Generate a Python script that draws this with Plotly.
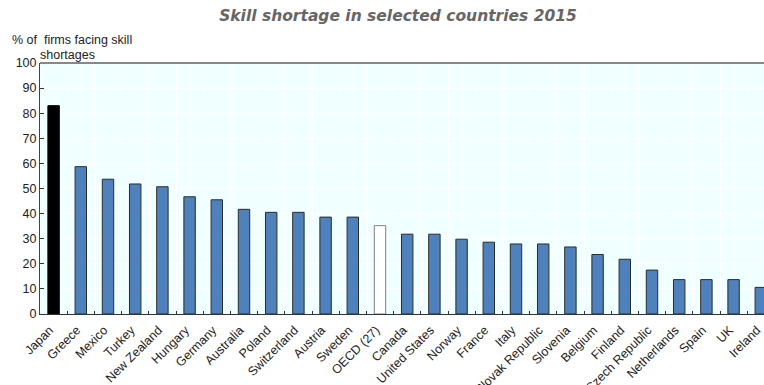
import plotly.graph_objects as go

countries = ["Japan", "Greece", "Mexico", "Turkey", "New Zealand", "Hungary", "Germany",
             "Australia", "Poland", "Switzerland", "Austria", "Sweden", "OECD (27)", "Canada",
             "United States", "Norway", "France", "Italy", "Slovak Republic", "Slovenia",
             "Belgium", "Finland", "Czech Republic", "Netherlands", "Spain", "UK", "Ireland"]
values = [83, 58.7, 53.7, 51.8, 50.7, 46.7, 45.5, 41.7, 40.5, 40.5, 38.6, 38.6, 35.2, 31.8,
          31.8, 29.8, 28.6, 27.9, 27.9, 26.7, 23.7, 21.8, 17.5, 13.7, 13.7, 13.7, 10.6]
y_ticks = [0, 10, 20, 30, 40, 50, 60, 70, 80, 90, 100]

fill = []
edge = []
for c in countries:
    if c == "Japan":
        fill.append("#000000"); edge.append("#000000")
    elif c.startswith("OECD"):
        fill.append("#FFFFFF"); edge.append("#7F7F7F")
    else:
        fill.append("#4F81BD"); edge.append("#2B2B2B")

fig = go.Figure(go.Bar(
    x=countries, y=values, width=0.42,
    marker=dict(color=fill, line=dict(color=edge, width=1)),
))

narrow = "Liberation Sans Narrow, Arial Narrow, sans-serif"

fig.update_layout(
    width=764, height=385,
    margin=dict(l=40, r=0, t=63, b=71),
    paper_bgcolor="white",
    plot_bgcolor="#F0FFFF",
    showlegend=False,
    title=dict(text="<b><i>Skill shortage in selected countries 2015</i></b>",
               x=398 / 764, xanchor="center", y=1 - 16 / 385, yanchor="middle",
               font=dict(family="DejaVu Sans", size=15.5, color="#666666")),
    xaxis=dict(range=[-0.5, -0.5 + 724 / 27.2], tickson="boundaries",
               ticks="inside", ticklen=3, tickcolor="#333", showgrid=True,
               gridcolor="#FFFFFF", gridwidth=1, tickangle=-45,
               tickfont=dict(family=narrow, size=12.5, color="#222"),
               ticklabelstandoff=3, ticklabelshift=-4,
               showline=True, linecolor="#333", linewidth=1,
               automargin=False),
    yaxis=dict(range=[0, 100], tickvals=y_ticks, ticks="inside", ticklen=4,
               tickcolor="#333", showgrid=True, gridcolor="#FFFFFF", gridwidth=1,
               tickfont=dict(family=narrow, size=12.5, color="#222"),
               showline=True, linecolor="#444", linewidth=1,
               zeroline=False, automargin=False),
    shapes=[dict(type="line", xref="paper", yref="paper", x0=0, x1=1, y0=1, y1=1,
                 line=dict(color="#888888", width=2))],
    annotations=[
        dict(text="% of  firms facing skill", x=10, y=40, xref="paper", yref="paper",
             showarrow=False, xanchor="left", yanchor="middle",
             font=dict(family=narrow, size=12.5, color="#222")),
        dict(text="shortages", x=38, y=55, xref="paper", yref="paper",
             showarrow=False, xanchor="left", yanchor="middle",
             font=dict(family=narrow, size=12.5, color="#222")),
    ],
)

# convert pixel annotation positions into paper coordinates
for a in fig.layout.annotations:
    px, py = a.x, a.y
    a.x = (px - 40) / 724
    a.y = 1 + (63 - py) / (385 - 63 - 71)

fig.write_html("out.html")
